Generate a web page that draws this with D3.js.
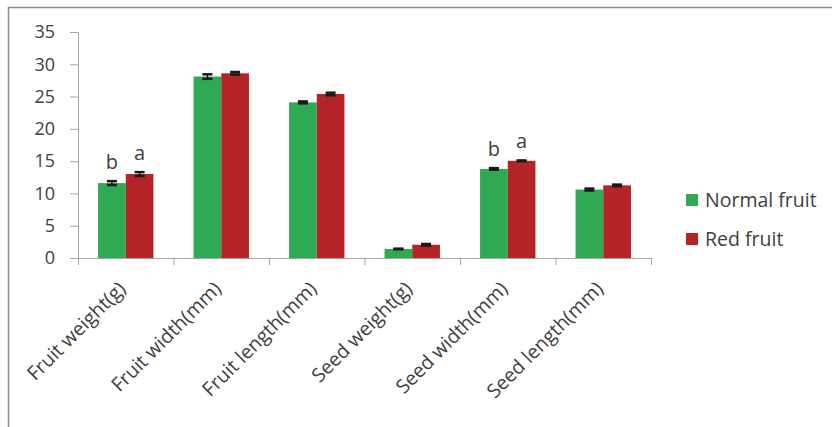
<!DOCTYPE html>
<html><head><meta charset="utf-8">
<script src="https://cdn.jsdelivr.net/npm/d3@7"></script>
<style>body{margin:0;background:#fff;} svg{display:block;}</style>
</head><body>
<svg id="c" width="832" height="427"></svg>
<script>
const categories = ["Fruit weight(g)","Fruit width(mm)","Fruit length(mm)","Seed weight(g)","Seed width(mm)","Seed length(mm)"];
const seriesNames = ["Normal fruit","Red fruit"];
const normalValues = [11.6, 28.1, 24.1, 1.4, 13.8, 10.6];
const redValues = [13.0, 28.6, 25.4, 2.05, 15.05, 11.25];
const normalErrors = [0.3, 0.35, 0.15, 0.05, 0.12, 0.15];
const redErrors = [0.3, 0.2, 0.2, 0.12, 0.06, 0.12];
const normalLetters = ["b","","","","b",""];
const redLetters = ["a","","","","a",""];
const yTicks = [0,5,10,15,20,25,30,35];
const colors = ["#2eaa55","#b42326"];

(function(){
const svg = d3.select("#c");
const font = "'Open Sans', sans-serif";
const textColor = "#404040";
const axisColor = "#a6a6a6";

// outer frame
svg.append("path").attr("d","M8.5,427 V7.5 H832").attr("fill","none").attr("stroke","#8c8c8c").attr("stroke-width",1.5);

const pLeft = 78, pRight = 651, pTop = 32, pBottom = 258;
const x = d3.scaleBand().domain(categories).range([pLeft,pRight]).paddingInner(0.42).paddingOuter(0.21);
const xs = d3.scaleBand().domain(seriesNames).range([0,x.bandwidth()]);
const y = d3.scaleLinear().domain([0,35]).range([pBottom,pTop]);

// y axis
const yAxis = svg.append("g").attr("transform",`translate(${pLeft},0)`)
  .call(d3.axisLeft(y).tickValues(yTicks).tickSize(8).tickPadding(15));
yAxis.select(".domain").attr("stroke",axisColor);
yAxis.selectAll(".tick line").attr("stroke",axisColor);
yAxis.selectAll("text").attr("font-family",font).attr("font-size",18).attr("fill",textColor);

// x axis with boundary ticks
const boundaries = d3.range(categories.length+1);
const xb = d3.scaleLinear().domain([0,categories.length]).range([pLeft,pRight]);
const xAxis = svg.append("g").attr("transform",`translate(0,${pBottom})`)
  .call(d3.axisBottom(xb).tickValues(boundaries).tickSize(7).tickFormat(""));
xAxis.select(".domain").attr("stroke",axisColor);
xAxis.selectAll(".tick line").attr("stroke",axisColor);

// bars
const data = categories.map((c,i)=>({c, vals:[
  {s:seriesNames[0], v:normalValues[i], e:normalErrors[i], l:normalLetters[i], col:colors[0]},
  {s:seriesNames[1], v:redValues[i], e:redErrors[i], l:redLetters[i], col:colors[1]}]}));

const g = svg.append("g").selectAll("g").data(data).join("g")
  .attr("transform",d=>`translate(${x(d.c)},0)`);
g.selectAll("rect").data(d=>d.vals).join("rect")
  .attr("x",d=>xs(d.s)).attr("width",xs.bandwidth())
  .attr("y",d=>y(d.v)).attr("height",d=>y(0)-y(d.v))
  .attr("fill",d=>d.col);

// error bars
const cap = 5;
const eb = g.selectAll("g.eb").data(d=>d.vals).join("g").attr("class","eb");
eb.append("line").attr("x1",d=>xs(d.s)+xs.bandwidth()/2).attr("x2",d=>xs(d.s)+xs.bandwidth()/2)
  .attr("y1",d=>y(d.v+d.e)).attr("y2",d=>y(d.v-d.e)).attr("stroke","#1a1a1a").attr("stroke-width",1.5);
[1,-1].forEach(sgn=>{
  eb.append("line").attr("x1",d=>xs(d.s)+xs.bandwidth()/2-cap).attr("x2",d=>xs(d.s)+xs.bandwidth()/2+cap)
    .attr("y1",d=>y(d.v+sgn*d.e)).attr("y2",d=>y(d.v+sgn*d.e)).attr("stroke","#1a1a1a").attr("stroke-width",2.5);
});
// letters
eb.append("text").text(d=>d.l)
  .attr("x",d=>xs(d.s)+xs.bandwidth()/2).attr("y",d=>y(d.v+d.e)-12)
  .attr("text-anchor","middle").attr("font-family",font).attr("font-size",20).attr("fill",textColor);

// x labels
svg.append("g").selectAll("text").data(categories).join("text")
  .attr("transform",d=>`translate(${x(d)+x.bandwidth()/2+1},${pBottom+32}) rotate(-45)`)
  .attr("text-anchor","end").attr("font-family",font).attr("font-size",19.5).attr("fill",textColor)
  .text(d=>d);

// legend
const lg = svg.append("g").selectAll("g").data(seriesNames).join("g")
  .attr("transform",(d,i)=>`translate(686,${194+i*39})`);
lg.append("rect").attr("width",12).attr("height",12).attr("fill",(d,i)=>colors[i]);
lg.append("text").attr("x",19).attr("y",12.5).text(d=>d)
  .attr("font-family",font).attr("font-size",19.5).attr("fill",textColor);
})();
</script>
</body></html>
